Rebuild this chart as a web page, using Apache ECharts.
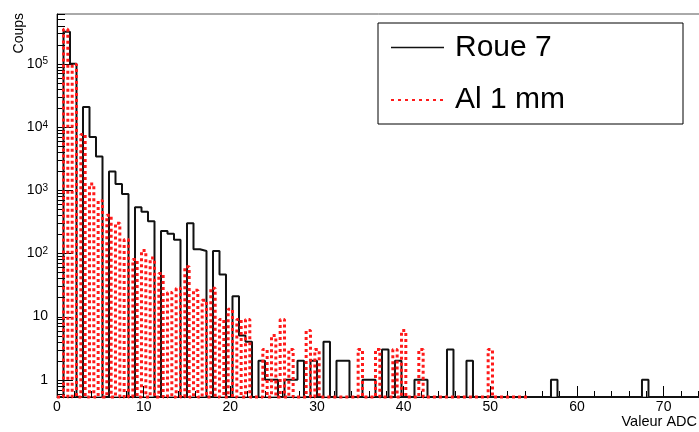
<!DOCTYPE html>
<html><head><meta charset="utf-8">
<script src="https://cdn.jsdelivr.net/npm/echarts@6/dist/echarts.min.js"></script>
<style>html,body{margin:0;padding:0;background:#fff}#c{width:699px;height:432px}</style>
</head><body><div id="c"></div>
<script>
// ---------- data ----------
// "Roue 7": 100 bins of width 0.75 ADC, starting at 0
const blackBinWidth = 0.75;
const blackCounts = [
  0, 320000, 100000, 0, 20700, 6900, 3400, 0, 1960, 1250,
  870, 0, 537, 455, 320, 0, 225, 204, 164, 0,
  300, 116, 109, 0, 109, 46, 0, 21, 5, 4,
  0, 2, 1, 1, 0, 1, 1, 2, 0, 2,
  0, 4, 0, 2, 2, 0, 0, 1, 1, 0,
  3, 0, 2, 0, 0, 1, 1, 0, 0, 0,
  3, 0, 0, 2, 0, 0, 0, 0, 0, 0,
  0, 0, 0, 0, 0, 0, 1, 0, 0, 0,
  0, 0, 0, 0, 0, 0, 0, 0, 0, 0,
  1, 0, 0, 0, 0, 0, 0, 0, 0, 0
];
// "Al 1 mm": counts per integer ADC value n (bin n-0.25 .. n+0.25)
const redHalfWidth = 0.25;
const redCounts = [
  0, 350000, 97000, 7600, 1250, 680, 400, 300, 165, 80,
  111, 84, 48, 24, 28, 61, 26, 18, 28, 9,
  13, 9, 9, 0, 3, 5, 9, 3, 0, 6,
  3, 0, 0, 0, 0, 3, 0, 3, 0, 3,
  6, 0, 3, 0, 0, 0, 0, 0, 0, 0,
  3, 0, 0, 0, 0
];
const seriesNames = ['Roue 7', 'Al 1 mm'];
const yMin = 0.533, yMax = 6.1e5;
const yMajorTicks = [1, 10, 100, 1000, 10000, 100000];
const yMinorFactors = [2, 3, 4, 5, 6, 7, 8, 9];
const xMin = 0, xMax = 80, xInterval = 10, xLabelMax = 70;

// ---------- build ----------
const FONT = '"Liberation Sans", Arial, Helvetica, sans-serif';
const BLACK = '#111', RED = '#ff1a1a';
const F = yMin;
const blackPts = [[0, F]];
blackCounts.forEach((c, k) => {
  const x0 = k * blackBinWidth, x1 = x0 + blackBinWidth, v = c > 0 ? c : F;
  blackPts.push([x0, v], [x1, v]);
});
blackPts.push([blackCounts.length * blackBinWidth, F]);

const redPts = [[0, F]];
redCounts.forEach((c, n) => {
  if (c > 0) {
    const l = Math.max(0, n - redHalfWidth), r = n + redHalfWidth;
    redPts.push([l, F], [l, c], [r, c], [r, F]);
  }
});
redPts.push([redCounts.length - 1 + redHalfWidth, F]);

const tickData = [];
yMajorTicks.forEach(v => tickData.push([0, v, 1]));
for (let k = -1; k <= 5; k++) {
  yMinorFactors.forEach(m => {
    const v = m * Math.pow(10, k);
    if (v > yMin && v < yMax) tickData.push([0, v, 0]);
  });
}

const chart = echarts.init(document.getElementById('c'), null, {renderer: 'canvas'});
chart.setOption({
  animation: false,
  backgroundColor: '#fff',
  textStyle: {fontFamily: FONT},
  grid: {left: 57, top: 14, width: 693.3, height: 383, outerBoundsMode: 'none', containLabel: false,
    show: true, borderColor: '#555', borderWidth: 1, backgroundColor: 'transparent'},
  title: {text: 'Valeur ADC', right: 2, top: 414, padding: 0,
    textStyle: {fontSize: 14.5, fontWeight: 'normal', color: '#000', fontFamily: FONT}},
  legend: {
    show: true,
    orient: 'vertical', left: 378, top: 23,
    padding: [9.5, 118, 9, 12],
    itemWidth: 53, itemHeight: 30, itemGap: 22.5,
    backgroundColor: '#fff', borderColor: '#000', borderWidth: 1,
    itemStyle: {color: 'transparent', borderColor: 'transparent', borderWidth: 0, opacity: 0},
    textStyle: {fontSize: 30, color: '#000', fontFamily: FONT, padding: [0, 0, 0, 6]},
    data: [
      {name: seriesNames[0], lineStyle: {color: BLACK, width: 1.5, type: 'solid'}},
      {name: seriesNames[1], lineStyle: {color: RED, width: 2, type: [3, 4]}}
    ]
  },
  xAxis: {
    type: 'value', min: xMin, max: xMax, interval: xInterval,
    axisLine: {show: true, onZero: false, lineStyle: {color: '#000', width: 1}},
    axisTick: {show: true, inside: true, length: 11, lineStyle: {color: '#000', width: 1}},
    minorTick: {show: true, splitNumber: 5, length: 6, lineStyle: {color: '#000', width: 1}},
    splitLine: {show: false},
    axisLabel: {margin: 3, fontSize: 14, color: '#000', fontFamily: FONT,
      formatter: v => (v <= xLabelMax && v % xInterval === 0) ? String(v) : ''}
  },
  yAxis: {
    type: 'log', logBase: 10, min: yMin, max: yMax,
    axisLine: {show: true, lineStyle: {color: '#000', width: 1}},
    axisTick: {show: false},
    splitLine: {show: false},
    axisLabel: {
      margin: 9, color: '#000', fontFamily: FONT,
      formatter: function (v) {
        const e = Math.log10(v), r = Math.round(e);
        if (Math.abs(e - r) > 1e-6) return '';
        if (r === 0) return '{b|1}';
        if (r === 1) return '{b|10}';
        return '{b|10}{s|' + r + '}';
      },
      rich: {
        b: {fontSize: 14, lineHeight: 14, padding: [4, 0, 4, 0], color: '#000', fontFamily: FONT},
        s: {fontSize: 10, lineHeight: 10, verticalAlign: 'top', color: '#000', fontFamily: FONT}
      }
    }
  },
  graphic: [{
    type: 'text', x: 19, y: 13, rotation: Math.PI / 2,
    style: {text: 'Coups', fontSize: 14, fontFamily: FONT, fill: '#000', align: 'right', verticalAlign: 'middle'}
  }],
  series: [
    {
      name: 'ticks', type: 'custom', silent: true, z: 1,
      data: tickData, encode: {x: 0, y: 1},
      renderItem: function (params, api) {
        const p = api.coord([api.value(0), api.value(1)]);
        const len = api.value(2) ? 16 : 8;
        const y = Math.round(p[1]) + 0.5;
        return {type: 'line', shape: {x1: p[0], y1: y, x2: p[0] + len, y2: y},
          style: {stroke: '#000', lineWidth: 1}};
      }
    },
    {
      name: seriesNames[0], type: 'line', data: blackPts, symbol: 'none', showSymbol: false,
      clip: false, z: 3,
      lineStyle: {color: BLACK, width: 2}, itemStyle: {color: BLACK}
    },
    {
      name: seriesNames[1], type: 'line', data: redPts, symbol: 'none', showSymbol: false,
      clip: false, z: 4,
      lineStyle: {color: RED, width: 3, type: [3, 3]}, itemStyle: {color: RED}
    }
  ]
});
</script></body></html>
